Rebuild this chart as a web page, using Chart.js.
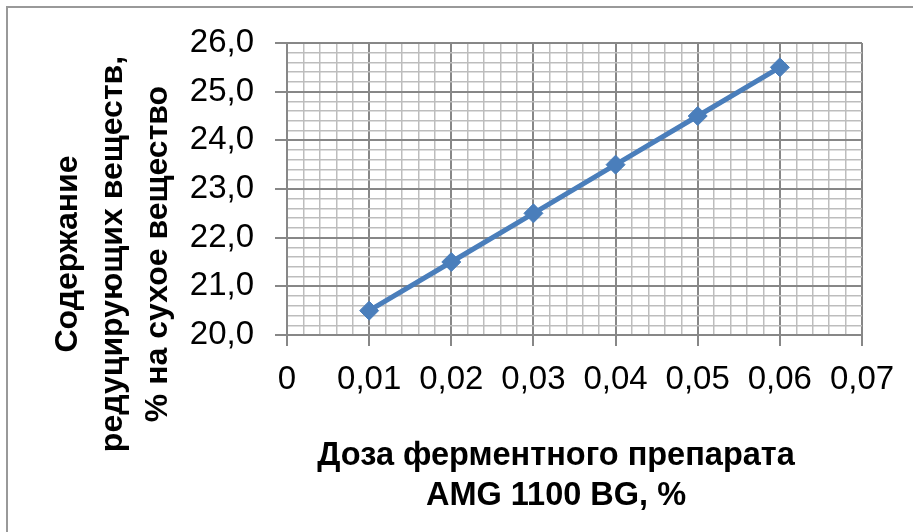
<!DOCTYPE html>
<html>
<head>
<meta charset="utf-8">
<script src="https://cdn.jsdelivr.net/npm/chart.js@4/dist/chart.umd.min.js"></script>
<style>
  html, body { margin: 0; padding: 0; background: #ffffff; }
  #wrap { position: relative; width: 913px; height: 532px; }
  canvas { display: block; }
</style>
</head>
<body>
<div id="wrap"><canvas id="c" width="913" height="532"></canvas></div>
<script>
// Enzyme dose, % and reducing-substance content, % of dry matter
const doses = [0.01, 0.02, 0.03, 0.04, 0.05, 0.06];
const reducingSubstances = [20.5, 21.5, 22.5, 23.5, 24.5, 25.5];

// Axis labels at the major ticks
const xTickLabels = ['0', '0,01', '0,02', '0,03', '0,04', '0,05', '0,06', '0,07'];
const yTickLabels = ['20,0', '21,0', '22,0', '23,0', '24,0', '25,0', '26,0'];

// Axis titles
const yTitleLines = ['Содержание', 'редуцирующих веществ,', '% на сухое вещество'];
const xTitleLines = ['Доза ферментного препарата', 'AMG 1100 BG, %'];

const MAJOR = '#878787';
const MINOR = '#bdbdbd';
const SERIES = '#4A7EBB';
const TICK_FONT = { family: '"Liberation Sans", Arial, sans-serif', size: 33 };
const Y_TITLE_FONT = 'bold 32px "Liberation Sans", Arial, sans-serif';
const X_TITLE_FONT = 'bold 32.5px "Liberation Sans", Arial, sans-serif';

const isMajorX = v => Math.abs(v * 100 - Math.round(v * 100)) < 1e-6;
const isMajorY = v => Math.abs(v - Math.round(v)) < 1e-6;

// Titles and the outer frame drawn on the canvas
const decorations = {
  id: 'decorations',
  afterDraw(chart) {
    const ctx = chart.ctx;
    ctx.save();
    ctx.strokeStyle = '#999999';
    ctx.lineWidth = 2;
    ctx.beginPath();
    ctx.moveTo(7, 540);
    ctx.lineTo(7, 7);
    ctx.lineTo(920, 7);
    ctx.stroke();

    ctx.fillStyle = '#000000';
    ctx.textAlign = 'center';
    ctx.textBaseline = 'alphabetic';
    ctx.font = Y_TITLE_FONT;
    const yBase = [77, 122, 167];
    yTitleLines.forEach((t, i) => {
      ctx.save();
      ctx.translate(yBase[i], 254);
      ctx.rotate(-Math.PI / 2);
      ctx.fillText(t, 0, 0);
      ctx.restore();
    });
    ctx.font = X_TITLE_FONT;
    const xBase = [465, 505];
    xTitleLines.forEach((t, i) => ctx.fillText(t, 556, xBase[i]));
    ctx.restore();
  }
};

new Chart(document.getElementById('c'), {
  type: 'line',
  data: {
    datasets: [{
      data: doses.map((d, i) => ({ x: d, y: reducingSubstances[i] })),
      borderColor: SERIES,
      backgroundColor: SERIES,
      borderWidth: 5,
      pointStyle: 'rectRot',
      pointRadius: 9.5,
      pointBorderWidth: 1,
      pointBorderColor: SERIES,
      pointBackgroundColor: SERIES,
      tension: 0
    }]
  },
  options: {
    responsive: false,
    animation: false,
    devicePixelRatio: 1,
    layout: { padding: { left: 0, right: 51, top: 43, bottom: 0 } },
    plugins: { legend: { display: false }, tooltip: { enabled: false } },
    scales: {
      x: {
        type: 'linear',
        min: 0,
        max: 0.07,
        afterFit(scale) { scale.height = 197; },
        ticks: {
          stepSize: 0.002,
          autoSkip: false,
          maxRotation: 0,
          minRotation: 0,
          padding: 14,
          color: '#000000',
          font: TICK_FONT,
          callback: v => isMajorX(v) ? xTickLabels[Math.round(v * 100)] : ''
        },
        grid: {
          color: c => isMajorX(c.tick.value) ? MAJOR : MINOR,
          tickColor: c => isMajorX(c.tick.value) ? MAJOR : 'rgba(0,0,0,0)',
          lineWidth: c => isMajorX(c.tick.value) ? 2 : 1.5,
          tickLength: 11,
          drawTicks: true
        },
        border: { color: MAJOR, width: 2 }
      },
      y: {
        type: 'linear',
        min: 20,
        max: 26,
        afterFit(scale) { scale.width = 287; },
        ticks: {
          stepSize: 0.2,
          autoSkip: false,
          padding: 21,
          color: '#000000',
          font: TICK_FONT,
          callback: v => isMajorY(v) ? yTickLabels[Math.round(v) - 20] : ''
        },
        grid: {
          color: c => isMajorY(c.tick.value) ? MAJOR : MINOR,
          tickColor: c => isMajorY(c.tick.value) ? MAJOR : 'rgba(0,0,0,0)',
          lineWidth: c => isMajorY(c.tick.value) ? 2 : 1.5,
          tickLength: 12,
          drawTicks: true
        },
        border: { color: MAJOR, width: 2 }
      }
    }
  },
  plugins: [decorations]
});
</script>
</body>
</html>
